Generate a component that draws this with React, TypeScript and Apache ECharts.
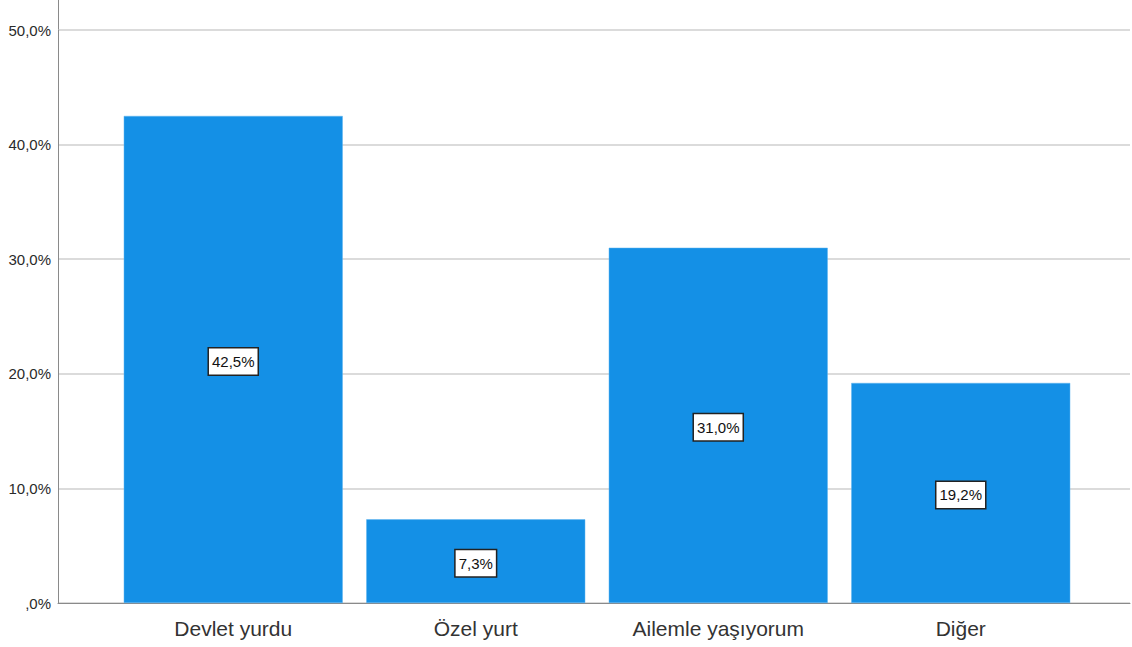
import React, { useEffect, useRef } from "react";
import * as echarts from "echarts";

const categories = ["Devlet yurdu", "Özel yurt", "Ailemle yaşıyorum", "Diğer"];
const percentages = [42.5, 7.3, 31.0, 19.2];
const yTicks = [0, 10, 20, 30, 40, 50];

const fmt = (v: number) => {
  const s = v.toFixed(1).replace(".", ",");
  return (s.startsWith("0,") ? s.slice(1) : s) + "%";
};

export default function App() {
  const ref = useRef<HTMLDivElement>(null);
  useEffect(() => {
    if (!ref.current) return;
    const chart = echarts.init(ref.current, null, { renderer: "svg" });
    const font = "'Liberation Sans', Arial, sans-serif";
    chart.setOption({
      animation: false,
      grid: [
        { left: 58, right: 2, top: 30, bottom: 44 },
        { left: 112, width: 970, top: 30, bottom: 44 },
      ],
      xAxis: [
        {
          gridIndex: 0,
          type: "value",
          min: 0,
          max: 1,
          axisLine: { show: true, onZero: false, lineStyle: { color: "#8a8a8a", width: 1 } },
          axisTick: { show: false },
          axisLabel: { show: false },
          splitLine: { show: false },
        },
        {
          gridIndex: 1,
          type: "category",
          data: categories,
          axisLine: { show: false },
          axisTick: { show: false },
          axisLabel: { color: "#333333", fontSize: 21, fontFamily: font, margin: 15 },
        },
      ],
      yAxis: [
        {
          gridIndex: 0,
          type: "value",
          min: yTicks[0],
          max: yTicks[yTicks.length - 1],
          interval: 10,
          axisLine: { show: true, lineStyle: { color: "#8a8a8a", width: 1 } },
          axisTick: { show: false },
          axisLabel: {
            color: "#2a2a2a",
            fontSize: 15,
            fontFamily: font,
            margin: 7,
            formatter: (v: number) => fmt(v),
          },
          splitLine: { show: true, lineStyle: { color: "#cfcfcf", width: 1.5 } },
        },
        {
          gridIndex: 1,
          type: "value",
          min: yTicks[0],
          max: yTicks[yTicks.length - 1],
          interval: 10,
          show: false,
          splitLine: { show: false },
        },
      ],
      graphic: [
        {
          type: "line",
          shape: { x1: 58.5, y1: 0, x2: 58.5, y2: 30 },
          style: { stroke: "#8a8a8a", lineWidth: 1 },
        },
      ],
      series: [
        {
          type: "bar",
          xAxisIndex: 1,
          yAxisIndex: 1,
          data: percentages,
          barWidth: 219,
          itemStyle: { color: "#1490e6", borderColor: "#5fb4f0", borderWidth: 0.5 },
          label: {
            show: true,
            position: "inside",
            formatter: (p: any) => fmt(p.value),
            color: "#111",
            fontSize: 15,
            lineHeight: 18,
            fontFamily: font,
            backgroundColor: "#ffffff",
            borderColor: "#222",
            borderWidth: 1.5,
            padding: [4, 3, 4, 3],
            offset: [0, 2],
          },
        },
      ],
    });
    return () => chart.dispose();
  }, []);
  return (
    <div
      ref={ref}
      style={{ position: "fixed", left: 0, top: 0, width: 1132, height: 647, background: "#fff" }}
    />
  );
}
